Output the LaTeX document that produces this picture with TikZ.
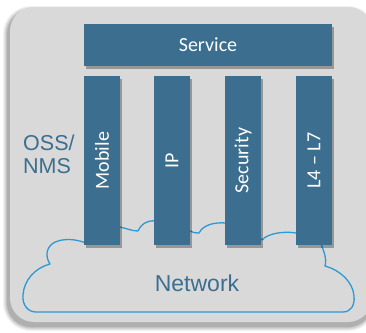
\documentclass[tikz,border=0pt]{standalone}
\usepackage{fontspec}
\setmainfont{Carlito}
\newfontfamily\arialf{Liberation Sans}
\usetikzlibrary{shadows}
\definecolor{barblue}{HTML}{3B6E8F}
\definecolor{cloudblue}{HTML}{2B9AD5}
\definecolor{panelgray}{HTML}{D9D9D9}
\begin{document}
\begin{tikzpicture}[x=1pt,y=-1pt,
  bar/.style={fill=barblue, draw=none, inner sep=0pt, text=white,
    drop shadow={shadow xshift=2pt, shadow yshift=-3pt, opacity=0.3, fill=black}},
  col/.style={bar, minimum width=36pt, minimum height=169pt},
  bartext/.style={text=white, font=\fontsize{20}{24}\selectfont, inner sep=0pt},
  sidetext/.style={text=barblue, font=\arialf\fontsize{21.5}{23}\selectfont, inner sep=0pt}]
\useasboundingbox (0,0) rectangle (366,332);
\clip (0,0) rectangle (366,332);
% panel shadow
\foreach \d/\o in {4/0.05,3/0.06,2/0.07,1/0.08,0/0.1}
  \fill[black, opacity=\o, rounded corners=24+\d]
    (10-3-\d,7+3-\d) rectangle (372+\d,322+5+\d);
% panel
\fill[panelgray, rounded corners=24] (10,7) rectangle (372,322);
% cloud
\draw[cloudblue, line width=1.3pt, line join=round]
  (36,312) .. controls (28,312) and (22,305) .. (23,295)
  .. controls (24,280) and (35,268) .. (50,264)
  .. controls (44,255) and (47,244) .. (58,241)
  .. controls (68,238) and (78,240) .. (86,243)
  .. controls (95,225) and (110,222) .. (120,227)
  .. controls (128,229) and (133,231) .. (138,231)
  .. controls (142,222) and (150,220) .. (158,221)
  .. controls (172,219) and (182,225) .. (190,231)
  .. controls (193,233) and (196,233) .. (199,233)
  .. controls (203,225) and (214,222) .. (226,223)
  .. controls (240,222) and (255,232) .. (262,240)
  .. controls (268,233) and (285,231) .. (296,233)
  .. controls (310,234) and (318,238) .. (321,244)
  .. controls (324,252) and (327,258) .. (325,266)
  .. controls (340,270) and (353,282) .. (354,296)
  .. controls (355,305) and (351,312) .. (343,312)
  -- cycle;
% bars
\node[bar, minimum width=248pt, minimum height=42pt] (svc) at (208,45) {};
\node[bartext] at (svc.center) {Service};
\node[col] (mob) at (102,160.5) {};
\node[col] (ip)  at (172,160.5) {};
\node[col] (sec) at (243,160.5) {};
\node[col] (l47) at (314,160.5) {};
\node[bartext, rotate=90] at (mob.center) {Mobile};
\node[bartext, rotate=90] at (ip.center) {IP};
\node[bartext, rotate=90] at (sec.center) {Security};
\node[bartext, rotate=90] at (l47.center) {L4 – L7};
% side labels
\node[sidetext, align=left, anchor=west] (oss) at (23,154) {OSS/\\NMS};
\node[sidetext, font=\arialf\fontsize{23}{26}\selectfont] (net) at (197,283) {Network};
\end{tikzpicture}
\end{document}
